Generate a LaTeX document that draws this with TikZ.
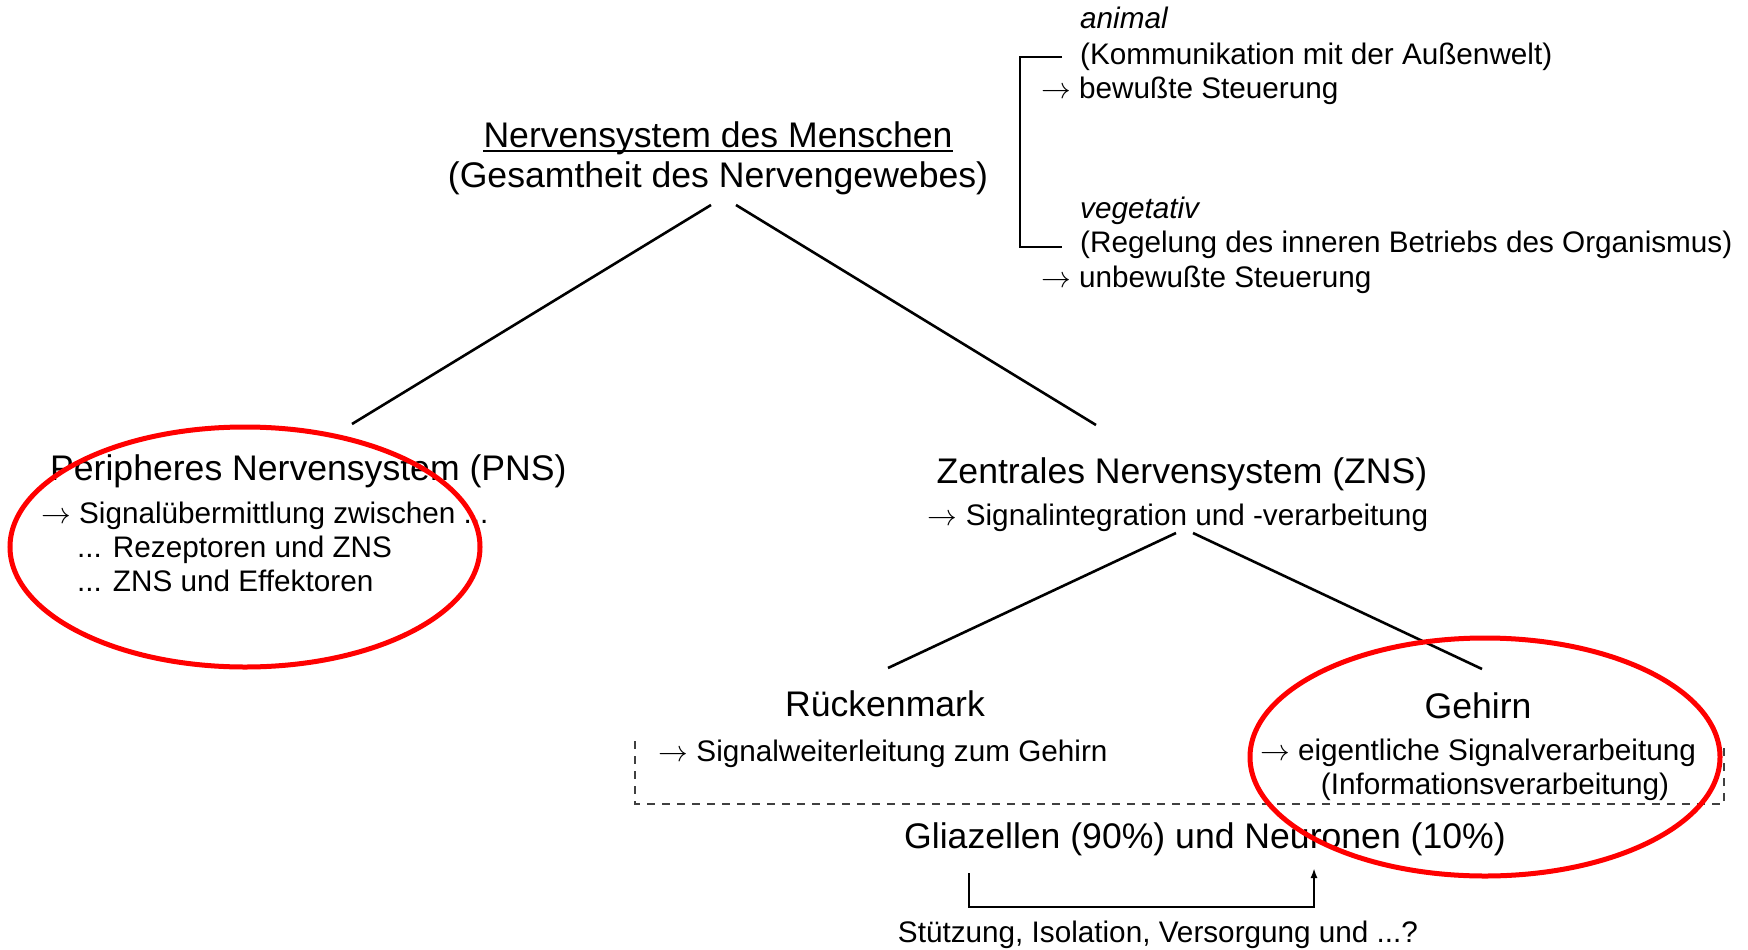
\RequirePackage{fix-cm}
\documentclass[tikz,border=0pt]{standalone}
\usepackage{fontspec}
\setmainfont{Liberation Sans}
\usetikzlibrary{arrows.meta}
\newcommand{\goesto}{$\rightarrow$}
\begin{document}
\begin{tikzpicture}[x=1pt,y=-1pt,
  big/.style={font=\fontsize{35.6}{40}\selectfont, inner sep=0pt},
  small/.style={font=\fontsize{29.7}{34.5}\selectfont, inner sep=0pt},
  smallit/.style={font=\fontsize{29.7}{34.5}\selectfont\itshape, inner sep=0pt},
  branch/.style={line width=2.6pt, black},
  bracket/.style={line width=2.8pt, black},
  dashframe/.style={line width=1.3pt, black!75, dash pattern=on 8pt off 7pt},
  redring/.style={draw=red, line width=5pt}
]
\useasboundingbox (0,0) rectangle (1748,950);

% root
\node[big, anchor=base] (title) at (718,147) {Nervensystem des Menschen};
\draw[line width=2.2pt] ([yshift=-4pt]title.base west) -- ([yshift=-4pt]title.base east);
\node[big, anchor=base] (titlesub) at (718,187) {(Gesamtheit des Nervengewebes)};

% animal / vegetativ
\node[smallit, anchor=base west] (ani) at (1080,29) {animal};
\node[small, anchor=base west] (ani1) at (1080,64) {(Kommunikation mit der Außenwelt)};
\node[small, anchor=base west] (ani2) at (1041,98) {\goesto{} bewußte Steuerung};
\node[smallit, anchor=base west] (veg) at (1080,218) {vegetativ};
\node[small, anchor=base west] (veg1) at (1080,252) {(Regelung des inneren Betriebs des Organismus)};
\node[small, anchor=base west] (veg2) at (1041,287) {\goesto{} unbewußte Steuerung};
\coordinate (brA) at (1062,57);
\coordinate (brB) at (1062,247);
\draw[bracket] (brA) -- (1020,57) -- (1020,247) -- (brB);

% PNS
\node[big, anchor=base west] (pns) at (50,480) {Peripheres Nervensystem (PNS)};
\node[small, anchor=base west] (pns1) at (41,523) {\goesto{} Signalübermittlung zwischen ...};
\node[small, anchor=base west] (pns2) at (77,557) {... Rezeptoren und ZNS};
\node[small, anchor=base west] (pns3) at (77,591) {... ZNS und Effektoren};

% ZNS
\node[big, anchor=base] (zns) at (1182,483) {Zentrales Nervensystem (ZNS)};
\node[small, anchor=base] (zns1) at (1178,525) {\goesto{} Signalintegration und -verarbeitung};

% Rueckenmark / Gehirn
\node[big, anchor=base] (rm) at (885,716) {Rückenmark};
\node[small, anchor=base] (rm1) at (883,761) {\goesto{} Signalweiterleitung zum Gehirn};
\node[big, anchor=base] (gh) at (1478,718) {Gehirn};
\node[small, anchor=base] (gh1) at (1478,760) {\goesto{} eigentliche Signalverarbeitung};
\node[small, anchor=base] (gh2) at (1495,794) {(Informationsverarbeitung)};

% cell types
\node[big, anchor=base] (glia) at (1205,848) {Gliazellen (90\%) und Neuronen (10\%)};
\node[small, anchor=base] (stuetz) at (1158,942) {Stützung, Isolation, Versorgung und ...?};

% tree branches
\coordinate (t-l) at (711,205);
\coordinate (t-r) at (736,205);
\coordinate (p-top) at (352,424);
\coordinate (z-top) at (1096,425);
\coordinate (z-l) at (1176,533);
\coordinate (z-r) at (1193,533);
\coordinate (r-top) at (888,668);
\coordinate (g-top) at (1482,669);
\draw[branch] (t-l) -- (p-top);
\draw[branch] (t-r) -- (z-top);
\draw[branch] (z-l) -- (r-top);
\draw[branch] (z-r) -- (g-top);

% dashed frame around spinal cord and brain
\draw[dashframe] (635,741) -- (635,804) -- (1724,804) -- (1724,748);

% glia support arrow
\coordinate (sup-a) at (969,873);
\coordinate (sup-b) at (1314,868);
\draw[line width=2pt, -{Latex[length=10pt,width=7pt]}] (sup-a) -- (969,907) -- (1314,907) -- (sup-b);

% highlight rings
\draw[redring] (245,547) ellipse [x radius=235pt, y radius=120pt];
\draw[redring] (1485,757) ellipse [x radius=235pt, y radius=119pt];
\end{tikzpicture}
\end{document}
